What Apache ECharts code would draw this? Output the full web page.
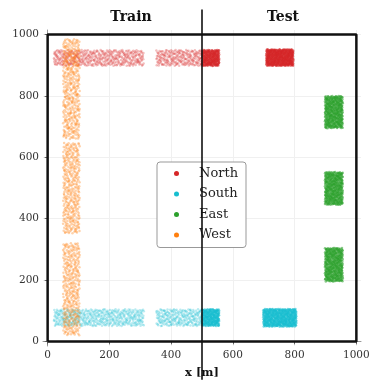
<!DOCTYPE html>
<html>
<head>
<meta charset="utf-8">
<script src="https://cdn.jsdelivr.net/npm/echarts@6/dist/echarts.min.js"></script>
<style>
  html, body { margin: 0; padding: 0; background: #fff; }
  #chart { width: 369px; height: 380px; }
</style>
</head>
<body>
<div id="chart"></div>
<script>
// tick values on both axes
const ticks = [0, 200, 400, 600, 800, 1000];
const seriesNames = ["North", "South", "East", "West"];
const seriesColors = ["#d62728", "#17becf", "#2ca02c", "#ff7f0e"];

// point clouds: [xMin, xMax, yMin, yMax, count, opacity]
const northClusters = [
  [20, 312, 898, 950, 420, 0.3],
  [352, 500, 898, 950, 220, 0.3],
  [500, 556, 898, 950, 260, 0.55],
  [708, 796, 898, 952, 520, 0.55]
];
const southClusters = [
  [20, 312, 50, 105, 420, 0.3],
  [352, 500, 50, 105, 220, 0.3],
  [500, 556, 50, 105, 260, 0.55],
  [698, 806, 48, 106, 520, 0.55]
];
const eastClusters = [
  [898, 956, 695, 800, 420, 0.55],
  [898, 956, 445, 552, 420, 0.55],
  [898, 956, 195, 305, 420, 0.55]
];
const westClusters = [
  [50, 104, 660, 985, 380, 0.35],
  [50, 104, 352, 648, 340, 0.35],
  [50, 104, 20, 320, 340, 0.35]
];

// outline box and the train/test divider
const boxLine = [[0, 0], [1000, 0], [1000, 1000], [0, 1000], [0, 0]];
const splitLine = [[500, 1082], [500, -125]];

// deterministic low-discrepancy fill of a cluster box (halton sequence)
function halton(i, b) {
  let f = 1, r = 0;
  while (i > 0) { f /= b; r += f * (i % b); i = Math.floor(i / b); }
  return r;
}
let seq = 1;
function fillClusters(list) {
  const out = [];
  list.forEach(c => {
    for (let i = 0; i < c[4]; i++) {
      seq++;
      out.push([c[0] + (c[1] - c[0]) * halton(seq, 2), c[2] + (c[3] - c[2]) * halton(seq, 3)]);
    }
  });
  return out;
}

const clusterSets = [northClusters, southClusters, eastClusters, westClusters];
const serif = "DejaVu Serif";

const scatterSeries = [];
clusterSets.forEach((set, k) => {
  set.forEach(c => {
    scatterSeries.push({
      name: seriesNames[k],
      type: "scatter",
      symbolSize: 2.5,
      itemStyle: { color: seriesColors[k], opacity: c[5] },
      data: fillClusters([c]),
      silent: true,
      z: 2
    });
  });
});

const chart = echarts.init(document.getElementById("chart"));

const axisCommon = {
  type: "value",
  min: -15,
  max: 1015,
  axisLine: { show: true, lineStyle: { color: "#999", width: 1 } },
  axisTick: { show: true, length: 3, customValues: ticks, lineStyle: { color: "#666" } },
  axisLabel: { customValues: ticks, formatter: v => String(v), fontFamily: serif, fontSize: 10.5, color: "#333", margin: 4 },
  splitLine: { show: true, lineStyle: { color: "#f0f0f0", width: 1 } },
  nameLocation: "middle",
  nameTextStyle: { fontFamily: serif, fontWeight: "bold", fontSize: 11.5, color: "#111" }
};

chart.setOption({
  animation: false,
  title: [
    { text: "Train", left: 126, top: 5, textAlign: "center",
      textStyle: { fontFamily: serif, fontWeight: "bold", fontSize: 14, color: "#111" } },
    { text: "Test", left: 278, top: 5, textAlign: "center",
      textStyle: { fontFamily: serif, fontWeight: "bold", fontSize: 14, color: "#111" } }
  ],
  grid: { left: 43, top: 30, width: 318, height: 316, containLabel: false, outerBoundsMode: "none" },
  xAxis: Object.assign({}, axisCommon, { name: "x [m]", nameGap: 21 }),
  yAxis: Object.assign({}, axisCommon, { name: "y [m]", nameGap: 27 }),
  legend: {
    data: seriesNames.map((n, k) => ({ name: n, itemStyle: { color: seriesColors[k], opacity: 1 } })),
    orient: "vertical",
    left: 157,
    top: 162,
    icon: "circle",
    itemWidth: 5,
    itemHeight: 5,
    itemGap: 5.5,
    padding: [4, 8, 5, 17],
    backgroundColor: "#fff",
    borderColor: "#999",
    borderWidth: 1,
    borderRadius: 3,
    textStyle: { fontFamily: serif, fontSize: 13, lineHeight: 15, color: "#222", padding: [0, 0, 0, 15] }
  },
  series: scatterSeries.concat([
    {
      type: "line",
      data: boxLine,
      symbol: "none",
      lineStyle: { color: "#111", width: 2.5 },
      silent: true,
      z: 3
    },
    {
      type: "line",
      data: splitLine,
      symbol: "none",
      clip: false,
      lineStyle: { color: "#111", width: 1.6 },
      silent: true,
      z: 10
    }
  ])
});
</script>
</body>
</html>
